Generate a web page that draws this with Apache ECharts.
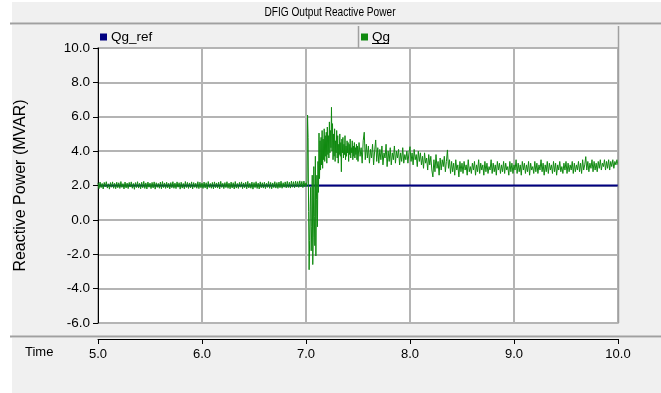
<!DOCTYPE html>
<html>
<head>
<meta charset="utf-8">
<script src="https://cdn.jsdelivr.net/npm/echarts@6/dist/echarts.min.js"></script>
<style>html,body{margin:0;padding:0;background:#fff}#c{width:661px;height:393px}</style>
</head>
<body>
<div id="c"></div>
<script>
// ---- data ----
const chartTitle = 'DFIG Output Reactive Power';
const seriesNames = ['Qg_ref', 'Qg'];
const yTicks = [-6, -4, -2, 0, 2, 4, 6, 8, 10];
const xTicks = [5, 6, 7, 8, 9, 10];

// Qg_ref: constant reference
const qgRefTime = [5.0, 10.0];
const qgRefValues = [2.0, 2.0];

// Qg steady part: t = 5.00 .. 6.99, step 0.01
const qgSteadyStart = 5.0, qgSteadyStep = 0.01;
const qgSteady = [
2.15,1.82,2.20,1.88,2.12,1.80,2.18,1.93,2.22,1.85,
2.10,1.79,2.17,1.90,2.21,1.84,2.13,1.81,2.19,1.87,
2.16,1.83,2.23,1.89,2.11,1.80,2.20,1.86,2.14,1.82,
2.18,1.91,2.21,1.84,2.12,1.78,2.17,1.88,2.22,1.85,
2.13,1.81,2.19,1.87,2.24,1.83,2.15,1.80,2.20,1.90,
2.14,1.82,2.18,1.86,2.21,1.79,2.16,1.89,2.12,1.84,
2.20,1.81,2.23,1.88,2.15,1.83,2.19,1.86,2.13,1.80,
2.17,1.87,2.22,1.84,2.14,1.82,2.21,1.90,2.16,1.79,
2.19,1.85,2.12,1.81,2.23,1.88,2.18,1.83,2.15,1.86,
2.21,1.80,2.17,1.89,2.13,1.84,2.22,1.82,2.19,1.87,
2.14,1.83,2.20,1.86,2.16,1.79,2.23,1.88,2.12,1.84,
2.18,1.81,2.21,1.87,2.15,1.85,2.19,1.80,2.24,1.89,
2.13,1.82,2.17,1.88,2.22,1.84,2.14,1.81,2.20,1.86,
2.16,1.80,2.23,1.85,2.12,1.83,2.18,1.90,2.21,1.82,
2.15,1.87,2.19,1.81,2.24,1.86,2.13,1.84,2.20,1.79,
2.17,1.88,2.22,1.83,2.14,1.80,2.21,1.87,2.16,1.85,
2.19,1.82,2.13,1.89,2.23,1.84,2.18,1.81,2.15,1.88,
2.22,1.85,2.17,1.83,2.20,1.87,2.25,1.84,2.16,1.90,
2.21,1.86,2.24,1.88,2.19,1.85,2.26,1.90,2.22,1.87,
2.25,1.91,2.23,1.89,2.27,1.92,2.24,1.88,2.26,1.93
];

// Qg transient part: t = 7.000 .. 7.495, step 0.005
const qgTransStart = 7.0, qgTransStep = 0.005;
const qgTransient = [
2.15,1.95,2.25,6.10,4.80,0.50,-2.90,-1.20,0.80,1.90,
-1.80,-0.40,2.60,-2.60,-1.00,3.10,0.20,-1.50,3.70,-2.10,
1.20,2.60,-0.40,3.40,1.60,5.05,2.40,4.60,2.90,4.80,
3.20,5.20,3.00,4.70,3.50,5.30,3.40,4.90,3.70,5.10,
3.30,5.40,3.80,4.90,3.60,5.70,3.90,5.20,4.20,6.55,
4.00,5.60,3.50,5.00,3.70,5.30,3.40,4.60,3.90,5.20,
3.60,4.90,3.30,4.40,3.80,5.00,3.70,4.50,2.80,4.70,
3.90,4.80,3.60,4.40,3.80,4.90,3.50,4.30,3.70,4.60,
3.90,4.50,3.40,4.40,3.80,4.70,3.60,4.20,3.90,4.60,
3.50,4.30,3.70,4.50,3.60,4.20,3.80,4.40,3.50,4.30
];

// Qg tail part: t = 7.50 .. 10.00, step 0.01
const qgTailStart = 7.5, qgTailStep = 0.01;
const qgTail = [
3.4,4.5,3.7,4.2,3.3,4.6,5.1,3.5,4.4,3.6,
4.3,3.3,4.1,3.6,4.4,3.2,4.0,4.65,3.4,4.2,
3.3,4.1,3.5,4.3,3.2,3.9,3.6,4.4,3.1,4.0,
3.4,4.2,3.2,3.9,3.5,4.3,3.3,4.0,3.6,4.1,
3.2,3.9,3.4,4.2,3.3,3.8,3.5,4.0,3.3,3.9,
4.26,3.4,3.9,3.2,4.1,3.5,3.8,3.1,4.0,3.4,
3.9,3.2,3.7,3.0,3.9,3.3,3.6,2.9,3.8,3.2,
3.7,2.9,2.5,3.5,2.8,3.8,3.0,3.4,2.6,3.6,
2.9,3.5,3.1,3.7,2.8,3.4,4.07,3.0,3.5,2.7,
3.4,2.8,3.3,2.6,3.5,2.9,3.2,2.5,3.4,2.8,
3.3,2.7,3.4,2.9,3.2,2.6,3.5,2.8,3.1,2.7,
3.3,2.9,3.4,2.6,3.2,2.8,3.5,2.7,3.3,2.9,
3.2,2.6,3.4,2.8,3.3,2.7,3.1,2.9,3.5,2.7,
3.3,2.8,3.2,2.6,3.4,2.9,3.3,2.7,3.2,2.8,
3.4,2.7,3.3,2.9,3.1,2.6,3.4,2.8,3.3,2.7,
3.2,2.9,3.5,2.7,3.3,2.8,3.2,2.6,3.4,2.9,
3.3,2.7,3.2,2.8,3.4,2.6,3.3,2.9,3.1,2.7,
3.4,2.8,3.3,2.7,3.2,2.9,3.5,2.8,3.3,2.6,
3.2,2.8,3.4,2.7,3.3,2.9,3.2,2.7,3.4,2.8,
3.3,2.6,3.2,2.9,3.4,2.8,3.1,2.7,3.3,2.9,
3.4,2.7,3.3,2.8,3.2,2.9,3.4,2.7,3.3,2.8,
3.2,2.9,3.4,2.8,3.3,2.7,3.5,2.9,3.2,3.68,
2.9,3.4,2.8,3.3,3.0,3.5,2.8,3.4,2.9,3.3,
2.8,3.4,3.0,3.5,2.9,3.3,3.1,3.5,2.9,3.4,
3.0,3.5,2.9,3.4,3.1,3.5,3.0,3.4,3.2,3.5,
3.2
];

// ---- build series data (time grid + read values) ----
function seg(start, step, vals) {
  return vals.map((v, i) => [+(start + i * step).toFixed(4), v]);
}
const qgData = seg(qgSteadyStart, qgSteadyStep, qgSteady)
  .concat(seg(qgTransStart, qgTransStep, qgTransient))
  .concat(seg(qgTailStart, qgTailStep, qgTail));
const qgRefData = qgRefTime.map((t, i) => [t, qgRefValues[i]]);

const FONT = '"Liberation Sans", Arial, sans-serif';
const chart = echarts.init(document.getElementById('c'), null, {renderer: 'canvas'});
const gray = '#f0f0f0', lineGray = '#a0a0a0';

chart.setOption({
  animation: false,
  backgroundColor: '#ffffff',
  textStyle: {fontFamily: FONT},
  graphic: [
    {type: 'rect', z: -100, shape: {x: 12, y: 2, width: 649, height: 21}, style: {fill: gray}},
    {type: 'rect', z: -100, shape: {x: 12, y: 25, width: 649, height: 311}, style: {fill: gray}},
    {type: 'rect', z: -100, shape: {x: 12, y: 338, width: 649, height: 55}, style: {fill: gray}},
    {type: 'line', z: -99, shape: {x1: 10, y1: 23.5, x2: 661, y2: 23.5}, style: {stroke: lineGray, lineWidth: 2}},
    {type: 'line', z: -99, shape: {x1: 10, y1: 336.5, x2: 661, y2: 336.5}, style: {stroke: lineGray, lineWidth: 2}},
    {type: 'line', z: 10, shape: {x1: 358.5, y1: 26, x2: 358.5, y2: 48}, style: {stroke: lineGray, lineWidth: 1.5}},
    {type: 'line', z: 10, shape: {x1: 618.5, y1: 26, x2: 618.5, y2: 323}, style: {stroke: lineGray, lineWidth: 1.5}},
    {type: 'line', z: 10, shape: {x1: 372, y1: 43.5, x2: 389, y2: 43.5}, style: {stroke: '#000', lineWidth: 1}},
    {type: 'text', z: 10, x: 330, y: 12, scaleX: 0.75, originX: 0, originY: 0,
     style: {text: chartTitle, fill: '#000', font: '13.5px ' + FONT, textAlign: 'center', textVerticalAlign: 'middle'}},
    {type: 'text', z: 10, x: 25, y: 352, style: {text: 'Time', fill: '#000', font: '13px ' + FONT, textVerticalAlign: 'middle'}}
  ],
  legend: [
    {data: [seriesNames[0]], left: 95, top: 25, icon: 'rect', itemWidth: 7, itemHeight: 7, itemGap: 4,
     textStyle: {fontSize: 13.5, color: '#000', fontFamily: FONT, padding: [0, 0, 0, -1]}, selectedMode: false},
    {data: [seriesNames[1]], left: 356, top: 25, icon: 'rect', itemWidth: 7, itemHeight: 7, itemGap: 4,
     textStyle: {fontSize: 13.5, color: '#000', fontFamily: FONT, padding: [0, 0, 0, -1]}, selectedMode: false}
  ],
  grid: {
    left: 98, right: 43, top: 48, bottom: 70,
    show: true, backgroundColor: '#ffffff', borderColor: lineGray, borderWidth: 1.5
  },
  xAxis: {
    type: 'value', min: xTicks[0], max: xTicks[xTicks.length - 1], interval: 1,
    offset: 16,
    axisLine: {show: true, onZero: false, lineStyle: {color: '#000', width: 1}},
    axisTick: {show: true, length: 5, lineStyle: {color: '#000'}},
    axisLabel: {margin: 9, fontSize: 13, color: '#000', fontFamily: FONT, formatter: v => v.toFixed(1)},
    splitLine: {show: true, lineStyle: {color: '#b4b4b4', width: 2}}
  },
  yAxis: {
    type: 'value', min: yTicks[0], max: yTicks[yTicks.length - 1], interval: 2,
    name: 'Reactive Power (MVAR)', nameLocation: 'middle', nameGap: 69,
    nameTextStyle: {fontSize: 16, color: '#000', fontFamily: FONT},
    axisLine: {show: true, onZero: false, lineStyle: {color: '#000', width: 1}},
    axisTick: {show: true, length: 5, lineStyle: {color: '#000'}},
    axisLabel: {margin: 8, fontSize: 13.5, color: '#000', fontFamily: FONT, formatter: v => v.toFixed(1)},
    splitLine: {show: true, lineStyle: {color: '#b4b4b4', width: 2}}
  },
  series: [
    {name: seriesNames[0], type: 'line', data: qgRefData, showSymbol: false, symbol: 'none',
     color: '#000080', lineStyle: {color: '#000080', width: 2}, z: 2},
    {name: seriesNames[1], type: 'line', data: qgData, showSymbol: false, symbol: 'none',
     color: '#108a10', lineStyle: {color: '#108a10', width: 1}, z: 3}
  ]
});
</script>
</body>
</html>
